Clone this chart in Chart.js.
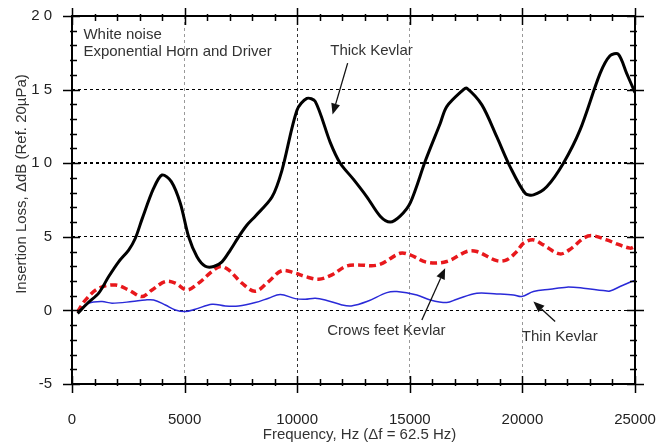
<!DOCTYPE html>
<html>
<head>
<meta charset="utf-8">
<script src="https://cdn.jsdelivr.net/npm/chart.js@4.4.1/dist/chart.umd.min.js"></script>
<style>
  html, body { margin: 0; padding: 0; background: #fff; }
  #wrap { width: 657px; height: 447px; position: relative; }
</style>
</head>
<body>
<div id="wrap"><canvas id="c"></canvas></div>
<script>
// ---- data ----
const freqThick = [250, 700, 1185, 1630, 2070, 2516, 2813, 3110, 3626, 4000, 4411, 4810, 5180, 5550, 5920, 6290, 6660, 7030, 7400, 7770, 8140, 8880, 9320, 9990, 10430, 10800, 11470, 11910, 12500, 13100, 13685, 14130, 14570, 15020, 15700, 16350, 16640, 17380, 17530, 18200, 18860, 19450, 20120, 20490, 21080, 21820, 22560, 23450, 23890, 24260, 24630, 25000];
const thickKevlar = [-0.2, 0.5, 1.17, 2.3, 3.3, 4.1, 4.9, 6.2, 8.3, 9.2, 8.75, 7.28, 5.0, 3.65, 3.0, 2.98, 3.3, 4.1, 5.0, 5.8, 6.4, 7.7, 9.5, 13.6, 14.4, 14.2, 11.4, 10.0, 8.9, 7.7, 6.4, 6.0, 6.4, 7.3, 10.2, 12.7, 13.85, 15.0, 15.1, 13.96, 11.8, 9.77, 7.96, 7.85, 8.4, 10.0, 12.26, 16.1, 17.3, 17.4, 16.1, 14.8];

const freqCrows = [250, 595, 1185, 1925, 2516, 3110, 3553, 4145, 4590, 5107, 5622, 6217, 6585, 6954, 7548, 8138, 8730, 9320, 9913, 10357, 10950, 11540, 12130, 12575, 13600, 14570, 15015, 15755, 16640, 17530, 17975, 18860, 19300, 19750, 20045, 20490, 20930, 21670, 22190, 22710, 23080, 23745, 24190, 24780, 25000];
const crowsFeetKevlar = [-0.1, 0.7, 1.5, 1.73, 1.39, 0.94, 1.39, 1.96, 1.85, 1.39, 1.85, 2.64, 2.98, 2.75, 1.85, 1.3, 1.96, 2.7, 2.53, 2.3, 2.12, 2.41, 2.98, 3.09, 3.09, 3.88, 3.77, 3.27, 3.32, 4.0, 4.0, 3.38, 3.43, 4.0, 4.56, 4.79, 4.45, 3.84, 4.23, 4.9, 5.08, 4.79, 4.52, 4.23, 4.35];

const freqThin = [250, 740, 1335, 1780, 2667, 3257, 3626, 4145, 4590, 5030, 5475, 6217, 6807, 7397, 8138, 8730, 9250, 9913, 10357, 10800, 11244, 11985, 12400, 13095, 13983, 14425, 15313, 15903, 16640, 17090, 17975, 18860, 19600, 19970, 20490, 21230, 21970, 22710, 23590, 23890, 24335, 24850, 25000];
const thinKevlar = [-0.1, 0.49, 0.6, 0.49, 0.6, 0.71, 0.71, 0.37, 0.03, -0.08, 0.08, 0.42, 0.3, 0.3, 0.53, 0.83, 1.08, 0.8, 0.76, 0.83, 0.71, 0.37, 0.3, 0.6, 1.21, 1.28, 1.05, 0.71, 0.53, 0.76, 1.17, 1.12, 1.05, 0.94, 1.28, 1.44, 1.58, 1.51, 1.35, 1.32, 1.62, 1.96, 2.05];

const xTickValues = [0, 5000, 10000, 15000, 20000, 25000];
const xTickLabels = ['0', '5000', '10000', '15000', '20000', '25000'];
const yTickValues = [-5, 0, 5, 10, 15, 20];
const yTickLabels = ['-5', '0', '5', '1 0', '1 5', '2 0'];

const xTitle = 'Frequency, Hz (\u0394f = 62.5 Hz)';
const yTitle = 'Insertion Loss, \u0394dB (Ref. 20\u00b5Pa)';
const noteLines = ['White noise', 'Exponential Horn and Driver'];
// annotation labels with anchor and arrow in data units [freq, dB]
const labelNames = ['Thick Kevlar', 'Crows feet Kevlar', 'Thin Kevlar'];
const labelAt = [[11466, 17.65], [11333, -1.39], [19973, -1.8]];
const arrowFrom = [[12240, 16.8], [15535, -0.65], [21454, -0.76]];
const arrowTo = [[11570, 13.3], [16569, 2.87], [20487, 0.6]];

const pts = (xs, ys) => xs.map((x, i) => ({ x: x, y: ys[i] }));
const FONT = '"Liberation Sans", Arial, Helvetica, sans-serif';

const framePlugin = {
  id: 'frame',
  afterDraw(chart) {
    const { ctx, chartArea: a, scales } = chart;
    const xs = scales.x, ys = scales.y;
    ctx.save();
    ctx.strokeStyle = '#000';
    // frame
    ctx.lineWidth = 2;
    ctx.strokeRect(a.left, a.top, a.right - a.left, a.bottom - a.top);
    // ticks
    ctx.lineWidth = 1.5;
    ctx.beginPath();
    for (let f = 0; f <= 25000; f += 1000) {
      const px = Math.round(xs.getPixelForValue(f)) + 0.5;
      if (f % 5000 === 0) {
        ctx.moveTo(px, a.bottom - 8); ctx.lineTo(px, a.bottom + 9);
        ctx.moveTo(px, a.top - 8); ctx.lineTo(px, a.top + 9);
      } else {
        ctx.moveTo(px, a.bottom + 2); ctx.lineTo(px, a.bottom - 5);
        ctx.moveTo(px, a.top - 2); ctx.lineTo(px, a.top + 5);
      }
    }
    for (let v = -5; v <= 20; v += 1) {
      const py = Math.round(ys.getPixelForValue(v)) + 0.5;
      if (v % 5 === 0) {
        ctx.moveTo(a.left - 9, py); ctx.lineTo(a.left + 8, py);
        ctx.moveTo(a.right - 8, py); ctx.lineTo(a.right + 9, py);
      } else {
        ctx.moveTo(a.left - 2, py); ctx.lineTo(a.left + 5, py);
        ctx.moveTo(a.right + 2, py); ctx.lineTo(a.right - 5, py);
      }
    }
    ctx.stroke();

    // texts
    ctx.fillStyle = '#333';
    ctx.font = '15px ' + FONT;
    ctx.textBaseline = 'middle';
    ctx.textAlign = 'left';
    const nx = xs.getPixelForValue(506);
    ctx.fillText(noteLines[0], nx, ys.getPixelForValue(18.72));
    ctx.fillText(noteLines[1], nx, ys.getPixelForValue(17.56));
    labelNames.forEach((t, i) => {
      ctx.fillText(t, xs.getPixelForValue(labelAt[i][0]), ys.getPixelForValue(labelAt[i][1]));
    });
    // arrows
    ctx.strokeStyle = '#111';
    ctx.fillStyle = '#111';
    ctx.lineWidth = 1.3;
    arrowFrom.forEach((p, i) => {
      const x1 = xs.getPixelForValue(p[0]), y1 = ys.getPixelForValue(p[1]);
      const x2 = xs.getPixelForValue(arrowTo[i][0]), y2 = ys.getPixelForValue(arrowTo[i][1]);
      const ang = Math.atan2(y2 - y1, x2 - x1);
      const hl = 11, hw = 4.5;
      const bx = x2 - hl * Math.cos(ang), by = y2 - hl * Math.sin(ang);
      ctx.beginPath(); ctx.moveTo(x1, y1); ctx.lineTo(bx, by); ctx.stroke();
      ctx.beginPath();
      ctx.moveTo(x2, y2);
      ctx.lineTo(bx + hw * Math.sin(ang), by - hw * Math.cos(ang));
      ctx.lineTo(bx - hw * Math.sin(ang), by + hw * Math.cos(ang));
      ctx.closePath(); ctx.fill();
    });
    // axis titles
    ctx.fillStyle = '#333';
    ctx.textAlign = 'center';
    ctx.fillText(xTitle, (a.left + a.right) / 2 + 6, 435);
    ctx.translate(22, (a.top + a.bottom) / 2 - 16);
    ctx.rotate(-Math.PI / 2);
    ctx.fillText(yTitle, 0, 0);
    ctx.restore();
  }
};

new Chart(document.getElementById('c'), {
  type: 'line',
  data: {
    datasets: [
      { label: 'Thick Kevlar', data: pts(freqThick, thickKevlar), borderColor: '#000', borderWidth: 3, pointRadius: 0, tension: 0.3, fill: false },
      { label: 'Crows feet Kevlar', data: pts(freqCrows, crowsFeetKevlar), borderColor: '#e8181c', borderWidth: 3.5, borderDash: [7, 4], pointRadius: 0, tension: 0.35, fill: false },
      { label: 'Thin Kevlar', data: pts(freqThin, thinKevlar), borderColor: '#2a2ad8', borderWidth: 1.5, pointRadius: 0, tension: 0.35, fill: false }
    ]
  },
  options: {
    responsive: true,
    maintainAspectRatio: false,
    animation: false,
    devicePixelRatio: 1,
    layout: { padding: { top: 16, right: 22, left: 0, bottom: 0 } },
    plugins: { legend: { display: false }, tooltip: { enabled: false } },
    scales: {
      x: {
        type: 'linear', min: 0, max: 25000,
        afterFit(s) { s.height = 63; s.paddingLeft = 0; s.paddingRight = 0; },
        afterBuildTicks(s) { s.ticks = xTickValues.map(v => ({ value: v })); },
        ticks: {
          padding: 27, color: '#222', font: { size: 15, family: FONT }, maxRotation: 0,
          callback: (v) => xTickLabels[xTickValues.indexOf(v)]
        },
        grid: {
          drawTicks: false,
          color: (c) => {
            const v = c.tick && c.tick.value;
            if (v === 0 || v === 25000) return 'rgba(0,0,0,0)';
            return v === 10000 ? '#333' : '#999';
          },
          lineWidth: 1
        },
        border: { display: false, dash: [3, 3] }
      },
      y: {
        type: 'linear', min: -5, max: 20,
        afterFit(s) { s.width = 72; s.paddingTop = 0; s.paddingBottom = 0; },
        afterBuildTicks(s) { s.ticks = yTickValues.map(v => ({ value: v })); },
        ticks: {
          padding: 20, color: '#222', font: { size: 15, family: FONT },
          callback: (v) => yTickLabels[yTickValues.indexOf(v)]
        },
        grid: {
          drawTicks: false,
          color: (c) => {
            const v = c.tick && c.tick.value;
            if (v === -5 || v === 20) return 'rgba(0,0,0,0)';
            return '#000';
          },
          lineWidth: (c) => (c.tick && c.tick.value === 10 ? 2 : 1)
        },
        border: { display: false, dash: [3, 3] }
      }
    }
  },
  plugins: [framePlugin]
});
</script>
</body>
</html>
